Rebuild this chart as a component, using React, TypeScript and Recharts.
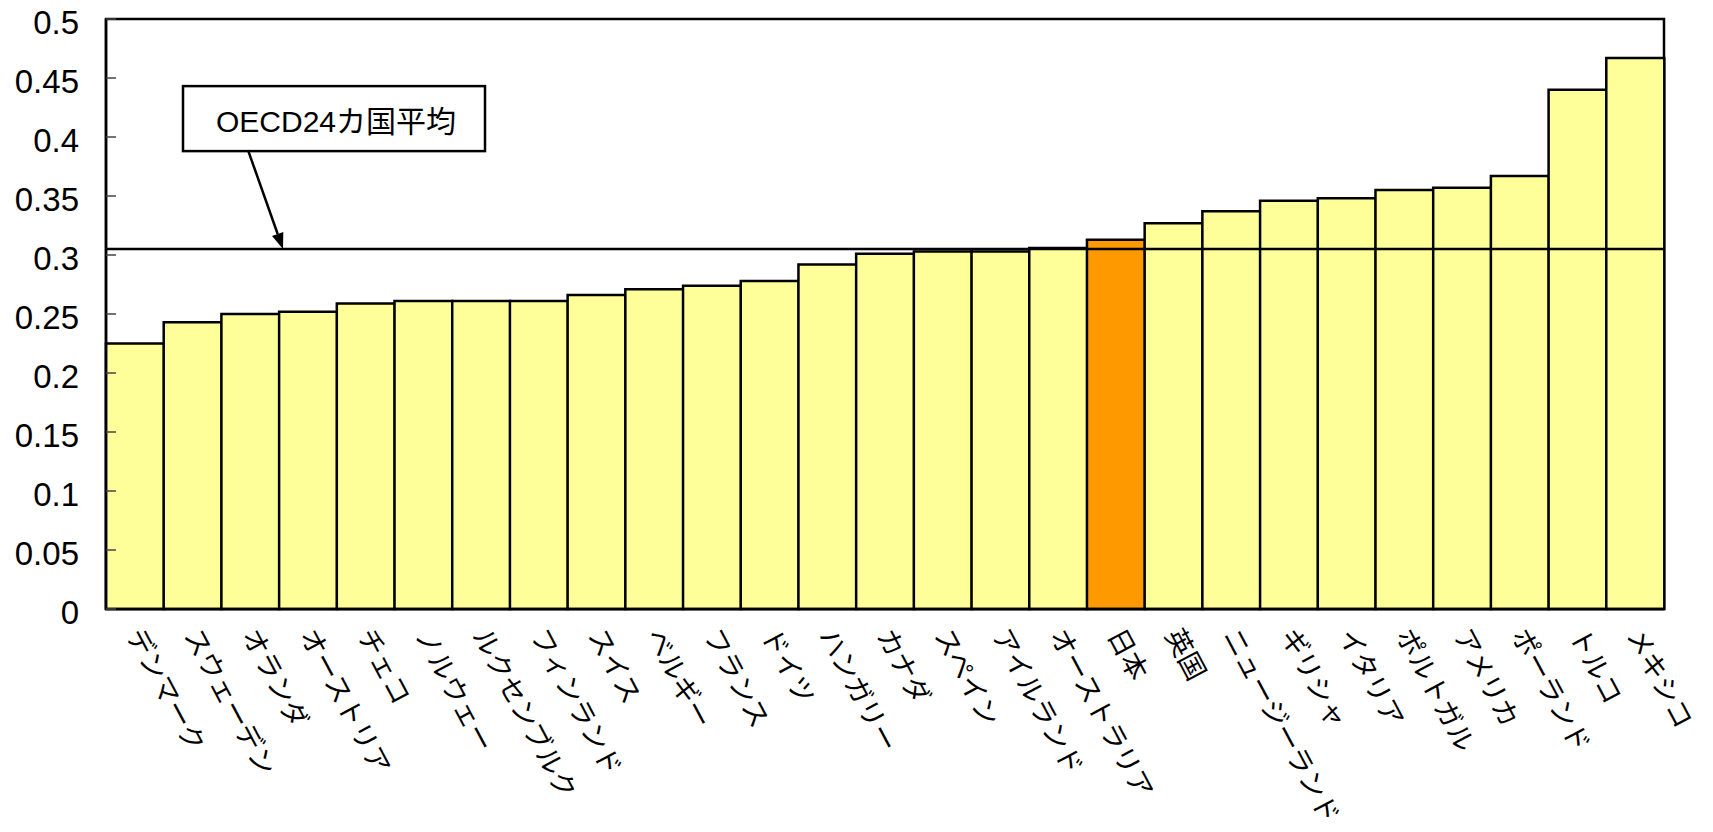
import { BarChart, Bar, XAxis, YAxis, ReferenceLine, ReferenceArea, Cell } from 'recharts';

const COUNTRIES = [
    'デンマーク', 'スウェーデン', 'オランダ', 'オーストリア', 'チェコ', 'ノルウェー', 'ルクセンブルク',
    'フィンランド', 'スイス', 'ベルギー', 'フランス', 'ドイツ', 'ハンガリー', 'カナダ', 'スペイン',
    'アイルランド', 'オーストラリア', '日本', '英国', 'ニュージーランド', 'ギリシャ', 'イタリア',
    'ポルトガル', 'アメリカ', 'ポーランド', 'トルコ', 'メキシコ',
];

const GINI = [
    0.225, 0.243, 0.25, 0.252, 0.259, 0.261, 0.261,
    0.261, 0.266, 0.271, 0.274, 0.278, 0.292, 0.301, 0.303,
    0.303, 0.306, 0.313, 0.327, 0.337, 0.346, 0.348,
    0.355, 0.357, 0.367, 0.44, 0.467,
];

const Y_TICKS = [0, 0.05, 0.1, 0.15, 0.2, 0.25, 0.3, 0.35, 0.4, 0.45, 0.5];
const OECD_AVERAGE = 0.305;
const AVERAGE_LABEL = 'OECD24カ国平均';
const HIGHLIGHT = '日本';

const colors = {
    bar: '#FFFF99',
    highlight: '#FF9900',
    line: '#000000',
    tick: '#444444',
};

const data = COUNTRIES.map((name, i) => ({ name, value: GINI[i] }));

const YTick = ({ x, y, payload }: any) => (
    <g>
        <line x1={x} y1={y} x2={x + 10} y2={y} stroke={colors.tick} strokeWidth={1.5} />
        <text
            x={x - 27}
            y={y + 3}
            textAnchor="end"
            dominantBaseline="central"
            fontFamily="'Liberation Sans', Arial, sans-serif"
            fontSize={33}
            fill="#000"
        >
            {payload.value}
        </text>
    </g>
);

const XTick = ({ x, y, payload }: any) => (
    <text
        x={x - 9}
        y={y + 26}
        transform={`rotate(62, ${x - 9}, ${y + 26})`}
        textAnchor="start"
        fontFamily="'Noto Sans CJK JP', sans-serif"
        fontSize={27}
        fill="#000"
    >
        {payload.value}
    </text>
);

// callout box + arrow pointing at the average line
const AverageLabel = ({ viewBox }: any) => {
    const { x, y } = viewBox;
    const tipX = x + 177;
    const tailX = x + 142;
    const tailY = y - 99;
    const ang = Math.atan2(y - tailY, tipX - tailX);
    const len = 16;
    const half = 6;
    const bx = tipX - len * Math.cos(ang);
    const by = y - len * Math.sin(ang);
    return (
        <g>
            <rect x={x + 77} y={y - 163} width={302} height={65} fill="#fff" stroke="#000" strokeWidth={2.5} />
            <text
                x={x + 230}
                y={y - 128}
                textAnchor="middle"
                dominantBaseline="central"
                fontFamily="'Liberation Sans', 'Noto Sans CJK JP', sans-serif"
                fontSize={30}
                fill="#000"
            >
                {AVERAGE_LABEL}
            </text>
            <line x1={tailX} y1={tailY} x2={bx} y2={by} stroke="#000" strokeWidth={2.5} />
            <polygon
                points={`${tipX},${y} ${bx + half * Math.sin(ang)},${by - half * Math.cos(ang)} ${bx - half * Math.sin(ang)},${by + half * Math.cos(ang)}`}
                fill="#000"
            />
        </g>
    );
};

export default function App() {
    return (
        <div style={{ width: 1700, height: 832, marginTop: -8 }}>
            <BarChart
                width={1700}
                height={832}
                data={data}
                barCategoryGap={0}
                margin={{ top: 19, right: 44, left: 0, bottom: 0 }}
            >
                <XAxis
                    dataKey="name"
                    interval={0}
                    height={223}
                    tickLine={false}
                    tickSize={0}
                    tickMargin={0}
                    axisLine={{ stroke: colors.line, strokeWidth: 2.5 }}
                    tick={<XTick />}
                />
                <YAxis
                    domain={[0, 0.5]}
                    ticks={Y_TICKS}
                    width={98}
                    tickLine={false}
                    tickSize={0}
                    tickMargin={0}
                    axisLine={{ stroke: colors.line, strokeWidth: 2.5 }}
                    tick={<YTick />}
                />
                <Bar dataKey="value" stroke={colors.line} strokeWidth={2.5} isAnimationActive={false}>
                    {data.map((d) => (
                        <Cell key={d.name} fill={d.name === HIGHLIGHT ? colors.highlight : colors.bar} />
                    ))}
                </Bar>
                <ReferenceArea
                    x1={COUNTRIES[0]}
                    x2={COUNTRIES[COUNTRIES.length - 1]}
                    y1={0}
                    y2={0.5}
                    fill="none"
                    fillOpacity={0}
                    stroke={colors.line}
                    strokeWidth={2.5}
                />
                <ReferenceLine
                    y={OECD_AVERAGE}
                    stroke={colors.line}
                    strokeWidth={2.5}
                    label={<AverageLabel />}
                />
            </BarChart>
        </div>
    );
}
